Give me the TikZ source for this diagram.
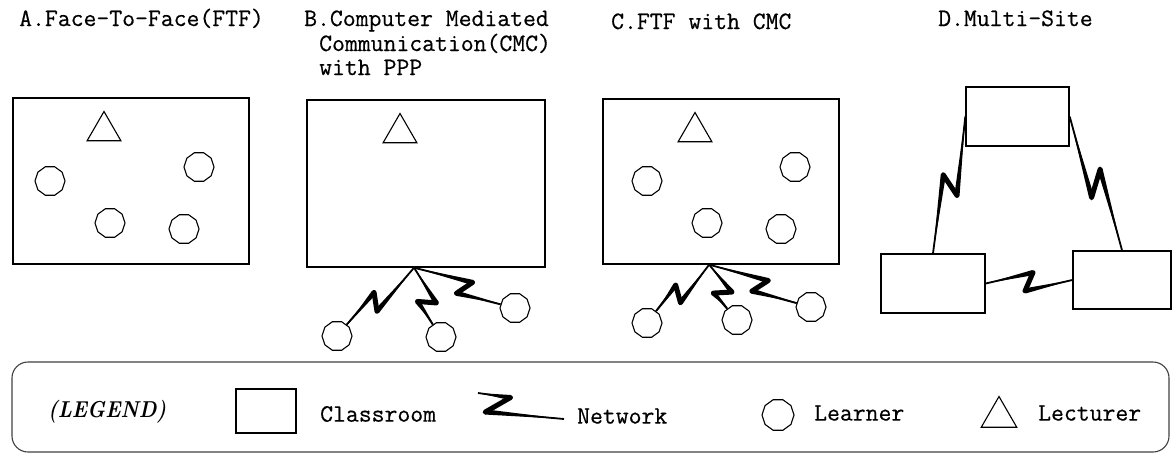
\documentclass[tikz,border=0pt]{standalone}
\usepackage{fontspec}
\newfontfamily\labelfont{Latin Modern Mono}[FakeBold=0.5]
\usetikzlibrary{calc,positioning,shapes.geometric}

\tikzset{
  room/.style={draw,line width=1.4pt,inner sep=0pt},
  learner/.style={draw,regular polygon,regular polygon sides=10,minimum size=30pt,inner sep=0pt,line width=1.1pt},
  lecturer/.style={draw,regular polygon,regular polygon sides=3,minimum size=39pt,inner sep=0pt,line width=1.1pt},
  txt/.style={font=\fontsize{25}{29}\selectfont\labelfont,inner sep=0pt},
}

% zigzag link: from, to, pos/offset of first kink, pos/offset of second kink
\newcommand\netlink[6]{%
  \coordinate (m1) at ($(#1)!#3!(#2)$);
  \coordinate (m2) at ($(#1)!#5!(#2)$);
  \coordinate (k1) at ($(m1)!#4!90:(#2)$);
  \coordinate (k2) at ($(m2)!#6!90:(#2)$);
  \fill (#1) -- ($(k1)!2.6pt!90:(#1)$) -- ($(k1)!2.6pt!-90:(#1)$) -- cycle;
  \fill (#2) -- ($(k2)!2.6pt!90:(#2)$) -- ($(k2)!2.6pt!-90:(#2)$) -- cycle;
  \draw[line width=5pt,line cap=round] (k1) -- (k2);
  \draw[line width=1.8pt] (#1) -- (k1) -- (k2) -- (#2);
}

\begin{document}
\begin{tikzpicture}[x=1pt,y=-1pt]
\useasboundingbox (0,0) rectangle (1173,455);

% titles
\node[txt,anchor=base west] (titleA) at (19,26) {A.Face-To-Face(FTF)};
\node[txt,anchor=base west] (titleB1) at (304,26) {B.Computer Mediated};
\node[txt,anchor=base west] (titleB2) at (319,51) {Communication(CMC)};
\node[txt,anchor=base west] (titleB3) at (319,75) {with PPP};
\node[txt,anchor=base west] (titleC) at (611,29) {C.FTF with CMC};
\node[txt,anchor=base west] (titleD) at (938,26) {D.Multi-Site};

% A: face to face
\node[room,minimum width=236pt,minimum height=166pt] (roomA) at (131,181) {};
\node[lecturer] (lecA) at (104,131) {};
\node[learner] (lA1) at (50,181) {};
\node[learner] (lA2) at (199,167) {};
\node[learner] (lA3) at (110,223) {};
\node[learner] (lA4) at (184,229) {};

% B: CMC with PPP
\node[room,minimum width=238pt,minimum height=167pt] (roomB) at (426,183.5) {};
\node[lecturer] (lecB) at (400,133) {};
\coordinate (hubB) at ($(roomB.south west)!.45!(roomB.south east)$);
\node[learner] (lB1) at (337,336) {};
\node[learner] (lB2) at (441,337) {};
\node[learner] (lB3) at (515,308) {};
\netlink{hubB}{lB1}{.55}{8pt}{.45}{-8pt}
\netlink{hubB}{lB2}{.55}{8pt}{.44}{-9pt}
\netlink{hubB}{lB3}{.55}{8pt}{.45}{-8pt}

% C: FTF with CMC
\node[room,minimum width=236pt,minimum height=165pt] (roomC) at (721,181.5) {};
\node[lecturer] (lecC) at (695,132) {};
\node[learner] (lC1) at (647,181) {};
\node[learner] (lC2) at (795,167) {};
\node[learner] (lC3) at (707,223) {};
\node[learner] (lC4) at (781,229) {};
\coordinate (hubC) at ($(roomC.south west)!.45!(roomC.south east)$);
\node[learner] (lC5) at (647,323) {};
\node[learner] (lC6) at (737,320) {};
\node[learner] (lC7) at (811,307) {};
\netlink{hubC}{lC5}{.55}{8pt}{.45}{-8pt}
\netlink{hubC}{lC6}{.56}{8pt}{.44}{-9pt}
\netlink{hubC}{lC7}{.55}{8pt}{.45}{-8pt}

% D: multi-site
\node[room,minimum width=103pt,minimum height=59pt] (roomDt) at (1017.5,116.5) {};
\node[room,minimum width=104pt,minimum height=59pt] (roomDl) at (933,283.5) {};
\node[room,minimum width=98pt,minimum height=58pt] (roomDr) at (1122,280) {};
\netlink{roomDt.west}{roomDl.north}{.56}{10pt}{.44}{-8pt}
\netlink{roomDt.east}{roomDr.north}{.58}{-9pt}{.42}{9pt}
\netlink{roomDl.east}{roomDr.west}{.55}{9pt}{.45}{-9pt}

% legend
\node[draw=black!75,line width=1.1pt,rounded corners=16pt,minimum width=1157pt,minimum height=90pt] (legend) at (590.5,407) {};
\node[font=\fontsize{23}{27}\selectfont\bfseries\itshape,inner sep=0pt,anchor=west,xscale=.88] (legTitle) at (48,412) {(LEGEND)};
\node[room,line width=1.1pt,minimum width=60pt,minimum height=44pt] (legRoom) at (266,411) {};
\node[txt,anchor=west] (legRoomTxt) at (320,414) {Classroom};
\coordinate (netA) at (478,393);
\coordinate (netB) at (564,419);
\netlink{netA}{netB}{.36}{5pt}{.14}{-16pt}
\node[txt,anchor=west] (legNetTxt) at (577,416) {Network};
\node[learner,minimum size=32pt] (legLrn) at (778,415) {};
\node[txt,anchor=west] (legLrnTxt) at (814,413) {Learner};
\node[lecturer,minimum size=41pt] (legLec) at (999,417) {};
\node[txt,anchor=west] (legLecTxt) at (1038,413) {Lecturer};
\end{tikzpicture}
\end{document}
